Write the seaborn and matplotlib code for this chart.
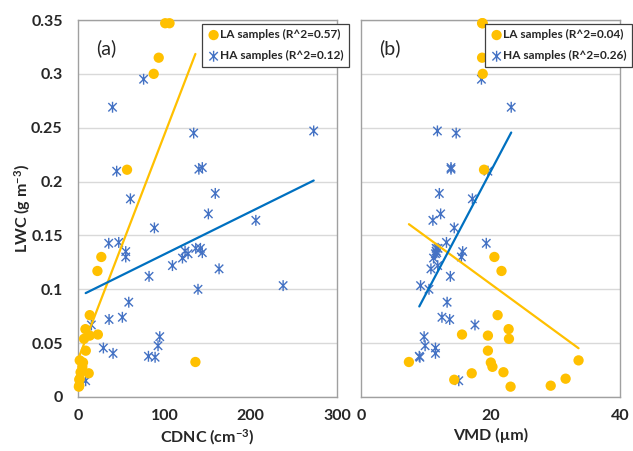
import numpy as np
import pandas as pd
import matplotlib
matplotlib.use("Agg")
import matplotlib.pyplot as plt
from matplotlib.path import Path
import seaborn as sns

# ---------------- data ----------------
la_cdnc = [101, 106, 93.5, 87.7, 56.8, 27, 22.5, 13.6, 8.6, 23, 13.6, 7, 9, 2, 136,
           5.8, 5, 12.4, 3, 2, 1.5, 1, 1.5]
la_vmd = [18.7, 18.8, 18.7, 18.8, 19.0, 20.6, 21.7, 21.1, 22.8, 15.6, 19.6, 22.85, 19.6,
          33.6, 7.4, 20.05, 20.3, 17.1, 22.0, 31.6, 14.4, 23.1, 29.3]
la_lwc = [0.347, 0.347, 0.315, 0.300, 0.211, 0.130, 0.117, 0.076, 0.063, 0.058, 0.057,
          0.054, 0.043, 0.034, 0.0325, 0.032, 0.028, 0.022, 0.023, 0.017, 0.016, 0.0096, 0.0105]

ha_cdnc = [76, 40, 273, 134, 144, 140, 44.8, 159, 60.7, 151, 206, 88.5, 35.6, 47.2,
           136.4, 141.8, 124, 55.3, 144, 127.5, 55.3, 121, 109.4, 163.4, 82.3, 237.6,
           139, 58.8, 51.4, 36, 15.5, 94.7, 92.7, 29.4, 40.6, 81.6, 89.3, 8.9]
ha_vmd = [18.6, 23.2, 11.8, 14.7, 13.9, 13.9, 19.6, 12.1, 17.2, 12.3, 11.1, 14.4, 19.35, 13.2,
          11.9, 11.6, 11.6, 15.7, 11.7, 11.5, 15.5, 11.2, 11.85, 10.8, 13.8, 9.2,
          10.5, 13.3, 12.5, 13.7, 17.6, 9.75, 9.9, 11.5, 11.5, 9.0, 9.1, 15.1]
ha_lwc = [0.295, 0.269, 0.247, 0.245, 0.213, 0.2115, 0.2096, 0.189, 0.184, 0.170, 0.164, 0.157,
          0.1427, 0.1435, 0.138, 0.138, 0.1355, 0.135, 0.134, 0.133, 0.130, 0.129, 0.122, 0.119,
          0.112, 0.1034, 0.100, 0.088, 0.074, 0.072, 0.0669, 0.056, 0.0476, 0.0455, 0.0405,
          0.0378, 0.0369, 0.0151]

r2_labels_a = ["LA samples (R^2=0.57)", "HA samples (R^2=0.12)"]
r2_labels_b = ["LA samples (R^2=0.04)", "HA samples (R^2=0.26)"]
yticks = [0, 0.05, 0.1, 0.15, 0.2, 0.25, 0.3, 0.35]
ytick_labels = ["0", "0.05", "0.1", "0.15", "0.2", "0.25", "0.3", "0.35"]

la = pd.DataFrame({"CDNC": la_cdnc, "VMD": la_vmd, "LWC": la_lwc})
ha = pd.DataFrame({"CDNC": ha_cdnc, "VMD": ha_vmd, "LWC": ha_lwc})

# ---------------- style ----------------
sns.set_style("white")
plt.rcParams["font.family"] = ["Lato", "DejaVu Sans"]
plt.rcParams["font.weight"] = "bold"
plt.rcParams["mathtext.fontset"] = "custom"
plt.rcParams["mathtext.rm"] = "Lato:bold"
plt.rcParams["mathtext.bf"] = "Lato:bold"
plt.rcParams["mathtext.default"] = "bf"

ORANGE = "#FFC000"
BLUE_M = "#4472C4"
BLUE_L = "#0070C0"
GRID = "#D9D9D9"
SPINE = "#A0A0A0"

# asterisk marker like Excel: X plus vertical bar
ast = Path([(-1, -1), (1, 1), (-1, 1), (1, -1), (0, -1.3), (0, 1.3)],
           [Path.MOVETO, Path.LINETO, Path.MOVETO, Path.LINETO, Path.MOVETO, Path.LINETO])

fig = plt.figure(figsize=(6.33, 4.51), dpi=100)
W, H = 633, 451
ax_a = fig.add_axes([78 / W, 1 - 397 / H, (337 - 78) / W, (397 - 20) / H])
ax_b = fig.add_axes([361 / W, 1 - 397 / H, (620 - 361) / W, (397 - 20) / H])


def draw(ax, xcol, xlim, xticks, labels, panel, xlabel):
    sns.scatterplot(data=la, x=xcol, y="LWC", ax=ax, color=ORANGE, marker="o", s=55,
                    edgecolor="none", label=labels[0], clip_on=False, zorder=4)
    sns.scatterplot(data=ha, x=xcol, y="LWC", ax=ax, color=BLUE_M, marker=ast, s=62,
                    edgecolor=BLUE_M, facecolor="none", linewidth=1.0, label=labels[1],
                    clip_on=False, zorder=3)
    sns.regplot(data=la, x=xcol, y="LWC", ax=ax, scatter=False, ci=None,
                color=ORANGE, line_kws={"lw": 1.6, "zorder": 5})
    sns.regplot(data=ha, x=xcol, y="LWC", ax=ax, scatter=False, ci=None,
                color=BLUE_L, line_kws={"lw": 1.6, "zorder": 5})
    ax.set_xlim(*xlim)
    ax.set_ylim(0, 0.35)
    ax.set_xticks(xticks)
    ax.set_xticklabels([str(v) for v in xticks])
    ax.set_yticks(yticks)
    ax.set_yticklabels(ytick_labels)
    ax.yaxis.grid(True, color=GRID, lw=1.0)
    ax.set_axisbelow(True)
    for s in ax.spines.values():
        s.set_color(SPINE)
        s.set_linewidth(1.0)
    ax.tick_params(axis="both", which="both", direction="out", length=4, width=1,
                   color=SPINE, labelsize=11.5, pad=5)
    ax.tick_params(axis="y", pad=7)
    ax.set_xlabel(xlabel, fontsize=11.5, fontweight="bold", labelpad=3)
    ax.text(0.07, 0.925, panel, transform=ax.transAxes, fontsize=14,
            fontweight="normal", ha="left", va="center")
    leg = ax.legend(loc="upper right", bbox_to_anchor=(1.047, 0.99), frameon=True,
                    fancybox=False, framealpha=1, edgecolor="#404040",
                    prop={"weight": "bold", "size": 8.6}, handletextpad=0.05,
                    handlelength=1.0, borderpad=0.45, labelspacing=0.85, borderaxespad=0)
    leg.get_frame().set_linewidth(0.9)
    leg.set_zorder(10)


draw(ax_a, "CDNC", (0, 300), [0, 100, 200, 300], r2_labels_a, "(a)", "CDNC (cm$^{-3}$)")
draw(ax_b, "VMD", (0, 40), [0, 20, 40], r2_labels_b, "(b)", "VMD (µm)")

ax_a.set_ylabel("LWC (g m$^{-3}$)", fontsize=11.5, fontweight="bold")
ax_a.yaxis.set_label_coords(-0.175, 0.5)
ax_b.set_ylabel("")
ax_b.tick_params(axis="y", labelleft=False)

fig.savefig("out.png", dpi=100)
